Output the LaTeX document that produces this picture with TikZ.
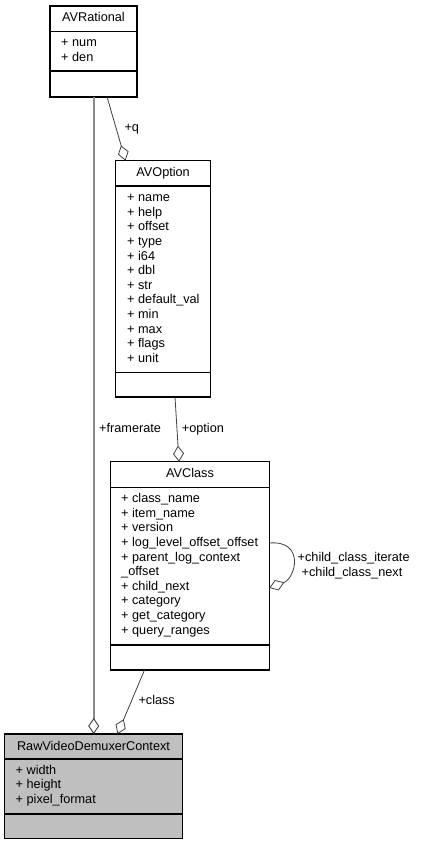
\documentclass[tikz,border=0pt]{standalone}
\usepackage{fontspec}
\setmainfont{Liberation Sans}
\usetikzlibrary{arrows.meta}
\definecolor{edgedark}{HTML}{404040}
\definecolor{edgegray}{HTML}{8A8A8A}
\definecolor{rawfill}{HTML}{BFBFBF}
\tikzset{
  umlbox/.style={draw=black, line width=1.1pt, fill=white, inner sep=0pt, outer sep=0pt, anchor=north west},
  sepline/.style={draw=black, line width=1.1pt},
  title/.style={anchor=base, inner sep=0pt, font=\fontsize{12.7}{14.6}\selectfont},
  attr/.style={anchor=base west, inner sep=0pt, font=\fontsize{12.7}{14.6}\selectfont},
  lbl/.style={anchor=base west, inner sep=0pt, font=\fontsize{12.7}{14.6}\selectfont},
  conn/.style={draw=edgedark, line width=0.8pt, {Diamond[open, fill=white, length=16pt, width=11pt]}-},
  gconn/.style={draw=edgegray, line width=1.6pt, {Diamond[open, fill=white, length=16pt, width=11pt, line width=0.9pt, color=edgedark]}-},
}
\begin{document}
\begin{tikzpicture}[x=1pt, y=-1pt]
\useasboundingbox (0,0) rectangle (420,845);
% AVRational
\node[umlbox, minimum width=87pt, minimum height=91pt] (rat) at (50,6) {};
\draw[sepline] (50,31.5) -- (137,31.5);
\draw[sepline] (50,71) -- (137,71);
\node[title] (ratT) at (93.5,21.7) {AVRational};
\node[attr] (ratA1) at (61,46.7) {+ num};
\node[attr] (ratA2) at (61,61.3) {+ den};
% AVOption
\node[umlbox, minimum width=94.8pt, minimum height=236.3pt] (opt) at (115.7,160.7) {};
\draw[sepline] (115.7,186) -- (210.5,186);
\draw[sepline] (115.7,372.7) -- (210.5,372.7);
\node[title] (optT) at (163.1,176.7) {AVOption};
\foreach \t [count=\i from 0] in {name,help,offset,type,i64,dbl,str,default\_val,min,max,flags,unit}
  \node[attr] (optA\i) at (127,201.7+14.6*\i) {+ \t};
% AVClass
\node[umlbox, minimum width=158.6pt, minimum height=208.3pt] (cls) at (110.7,461.7) {};
\draw[sepline] (110.7,487.3) -- (269.3,487.3);
\draw[sepline] (110.7,645) -- (269.3,645);
\node[title] (clsT) at (190,477.3) {AVClass};
\foreach \t [count=\i from 0] in {+ class\_name,+ item\_name,+ version,+ log\_level\_offset\_offset,+ parent\_log\_context,\_offset,+ child\_next,+ category,+ get\_category,+ query\_ranges}
  \node[attr] (clsA\i) at (121,502.7+14.6*\i) {\t};
% RawVideoDemuxerContext
\node[umlbox, fill=rawfill, minimum width=178.4pt, minimum height=104.3pt] (raw) at (4.3,734) {};
\draw[sepline] (4.3,759) -- (182.7,759);
\draw[sepline] (4.3,814) -- (182.7,814);
\node[title] (rawT) at (93.5,750) {RawVideoDemuxerContext};
\node[attr] (rawA1) at (15.5,774) {+ width};
\node[attr] (rawA2) at (15.5,788.6) {+ height};
\node[attr] (rawA3) at (15.5,803.2) {+ pixel\_format};
% connector end points
\coordinate (frA) at (93.7,96.7);
\coordinate (frB) at (93.7,734);
\coordinate (qA) at (107,96.7);
\coordinate (qB) at (125.5,160.7);
\coordinate (opA) at (175,397);
\coordinate (opB) at (179,461.7);
\coordinate (clA) at (144.5,670);
\coordinate (clB) at (117.5,734);
\coordinate (slA) at (269.3,543);
\coordinate (slB) at (269.3,588);
% connectors
\draw[gconn] (frB) -- (frA);
\draw[conn] (qB) -- (qA);
\draw[conn] (opB) -- (opA);
\draw[conn] (clB) -- (clA);
\draw[conn] (slB) .. controls (296,578) and (305,540) .. (slA);
% labels
\node[lbl] (lq) at (124.3,131.7) {+q};
\node[lbl] (lfr) at (99,432.7) {+framerate};
\node[lbl] (lop) at (181.7,432.7) {+option};
\node[lbl] (lcl) at (138.3,704) {+class};
\node[lbl] (lsl1) at (297.5,561.7) {+child\_class\_iterate};
\node[lbl] (lsl2) at (301.5,576.3) {+child\_class\_next};
\end{tikzpicture}
\end{document}
